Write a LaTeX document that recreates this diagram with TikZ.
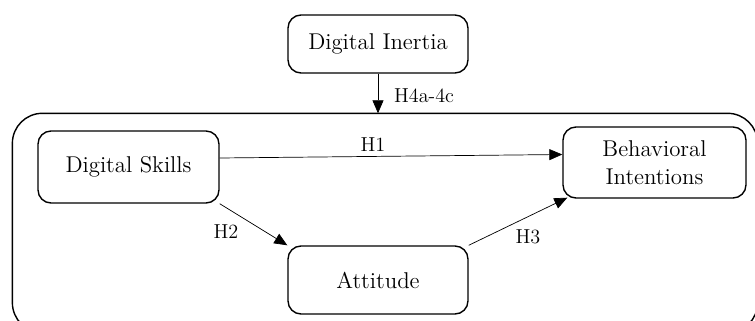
\documentclass[tikz,border=0pt]{standalone}
\usetikzlibrary{arrows.meta, calc}

\begin{document}
\begin{tikzpicture}[x=0.02cm,y=-0.02cm,
                    construct/.style={draw,thick,rounded corners=2.6mm,fill=white,font=\fontsize{13}{16}\selectfont,align=center,minimum width=3.6cm,minimum height=1.4cm},
                    hypothesis arrow/.style={-{Triangle[length=2.6mm,width=2.2mm]},thin},
                    hyp label/.style={font=\fontsize{11.5}{14}\selectfont,inner sep=1pt},
                   ]
  \useasboundingbox (0,0) rectangle (755,321);
  \clip (0,0) rectangle (755,321);

  \node[construct,minimum height=1.16cm] (inertia) at (378,44) {Digital Inertia};
  \node[construct,draw=none,fill=none,minimum width=14.88cm,minimum height=4.36cm] (model) at (385,223) {};
  \draw[thick,rounded corners=6mm] (model.north west) rectangle (model.south east);

  \node[construct,minimum width=3.62cm,minimum height=1.44cm] (skills) at (128.5,167) {Digital Skills};
  \node[construct,minimum width=3.66cm,minimum height=1.42cm] (intentions) at (654.5,162.5) {Behavioral\\Intentions};
  \node[construct,minimum height=1.36cm] (attitude) at (378,280) {Attitude};

  \path[hypothesis arrow] (inertia.south) edge (inertia.south |- model.north);
  \node[hyp label,anchor=west] (h4) at (392,96) {H4a-4c};

  \path[hypothesis arrow] ($(skills.east)+(0,-9)$) edge ($(intentions.west)+(0,-8)$);
  \node[hyp label] (h1) at (373,145) {H1};
  \path[hypothesis arrow] (skills.south east) edge (attitude.north west);
  \node[hyp label] (h2) at (226,232) {H2};
  \path[hypothesis arrow] (attitude.north east) edge ($(intentions.south west)+(5,-1)$);
  \node[hyp label] (h3) at (528,237) {H3};
\end{tikzpicture}
\end{document}
